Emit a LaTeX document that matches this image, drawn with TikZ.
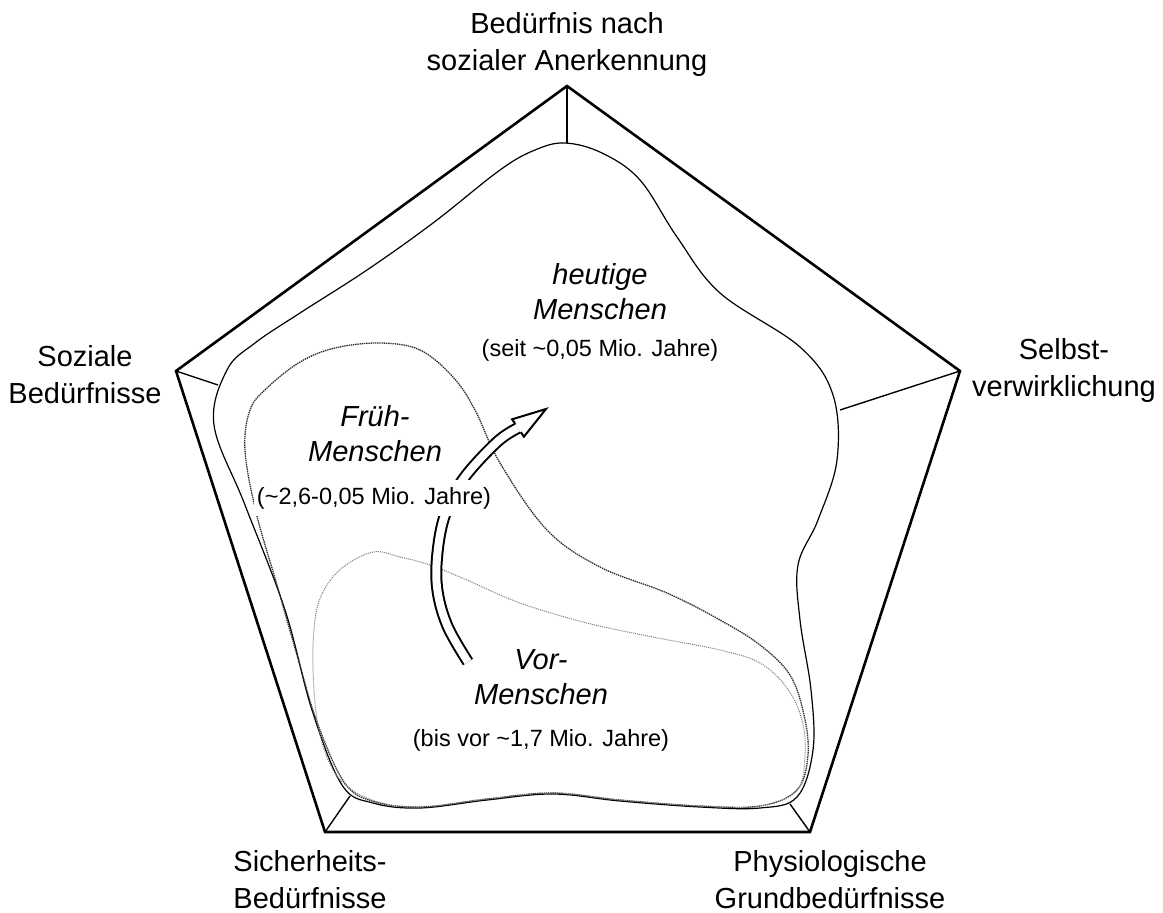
\documentclass[tikz,border=0pt]{standalone}
\usepackage{fontspec}
\setmainfont{Liberation Sans}
\usetikzlibrary{arrows.meta,positioning}
\definecolor{rahmen}{HTML}{000000}
\definecolor{fruehc}{HTML}{2E2E2E}
\definecolor{vorc}{HTML}{7C7C7C}

\begin{document}
\begin{tikzpicture}[x=1pt,y=-1pt,
    ecke/.style={font=\fontsize{29}{37}\selectfont,align=center,inner sep=0pt},
    gruppe/.style={font=\fontsize{29}{35}\selectfont\itshape,align=center,inner sep=0pt},
    zeit/.style={font=\fontsize{23.5}{28}\selectfont,inner sep=0pt},
    linie/.style={line width=1.2pt,rahmen}]
  \useasboundingbox (0,0) rectangle (1163,913);
  % Fuenfeck mit Speichen
  \foreach \n/\a/\b/\c/\d in {oben/567/86/567/143,links/176/371/218/385,rechts/960/371/840/410,ul/325/832/350/796,ur/810/832/790/804}{
    \coordinate (\n) at (\a,\b);
    \coordinate (\n-in) at (\c,\d);
    \draw[line width=1.4pt] (\n) -- (\n-in);
  }
  \draw[line width=2.6pt,line join=miter] (oben) -- (rechts) -- (ur) -- (ul) -- (links) -- cycle;

  % heutige Menschen
  \draw[linie] plot[smooth cycle,tension=0.6] coordinates {(565,143) (602,153) (640,180) (677,237) (720,293) (800,347) (833,395) (837,460) (818,520) (798,565) (800,620) (811,690) (813,750) (797,797) (760,808) (700,807) (620,801) (553,794) (487,800) (420,808) (373,803) (342,785) (312,710) (285,610) (245,505) (214,425) (227,370) (255,343) (300,313) (367,270) (433,223) (500,170) (535,150)};
  % Frueh-Menschen
  \draw[line width=1.3pt,fruehc,dash pattern=on 1.4pt off 0.8pt] plot[smooth cycle,tension=0.6] coordinates {(380,343) (420,350) (453,377) (475,410) (500,463) (547,530) (600,567) (667,593) (720,620) (760,645) (790,675) (804,715) (808,755) (797,790) (760,806) (700,806) (620,800) (553,793) (487,799) (420,807) (372,801) (344,782) (317,722) (297,655) (277,585) (256,512) (245,450) (250,410) (267,388) (300,362) (335,348)};
  % Vor-Menschen
  \draw[line width=1pt,vorc,dash pattern=on 1pt off 1pt] plot[smooth cycle,tension=0.6] coordinates {(373,552) (400,557) (430,565) (467,580) (520,603) (587,623) (653,637) (720,650) (760,663) (787,688) (802,720) (805,755) (797,790) (760,806) (700,806) (620,800) (553,793) (487,799) (420,807) (372,800) (337,776) (319,730) (313,670) (315,620) (323,592) (342,568)};

  % Entwicklungspfeil
  \coordinate (spitze) at (546,409);
  \draw[line width=2pt,double=white,double distance=8pt] plot[smooth,tension=0.6] coordinates {(468,662) (447,625) (437,587) (438,548) (446,512) (464,478) (497,442) (518,428)};
  \draw[line width=2pt,fill=white,line join=miter] (515.2,423.9) -- (512.1,419.3) -- (spitze) -- (523.9,436.7) -- (520.8,432.1);

  % Ecken
  \node[ecke] (anerkennung) at (567,45) {Bedürfnis nach\\sozialer Anerkennung};
  \node[ecke] (sozial) at (85,375) {Soziale\\Bedürfnisse};
  \node[ecke] (selbst) at (1064,370) {Selbst-\\verwirklichung};
  \node[ecke] (sicher) at (310,880) {Sicherheits-\\Bedürfnisse};
  \node[ecke] (physio) at (830,880) {Physiologische\\Grundbedürfnisse};

  % Gruppen
  \node[gruppe] (heute) at (600,292) {heutige\\Menschen};
  \node[zeit] (heute-zeit) at (600,350) {(seit \textasciitilde0,05 Mio. Jahre)};
  \node[gruppe] (frueh) at (375,434) {Früh-\\Menschen};
  \node[zeit,fill=white,inner xsep=3pt,inner ysep=7pt] (frueh-zeit) at (374,498) {(\textasciitilde2,6-0,05 Mio. Jahre)};
  \node[gruppe] (vor) at (541,677) {Vor-\\Menschen};
  \node[zeit] (vor-zeit) at (541,740) {(bis vor \textasciitilde1,7 Mio. Jahre)};
\end{tikzpicture}
\end{document}
